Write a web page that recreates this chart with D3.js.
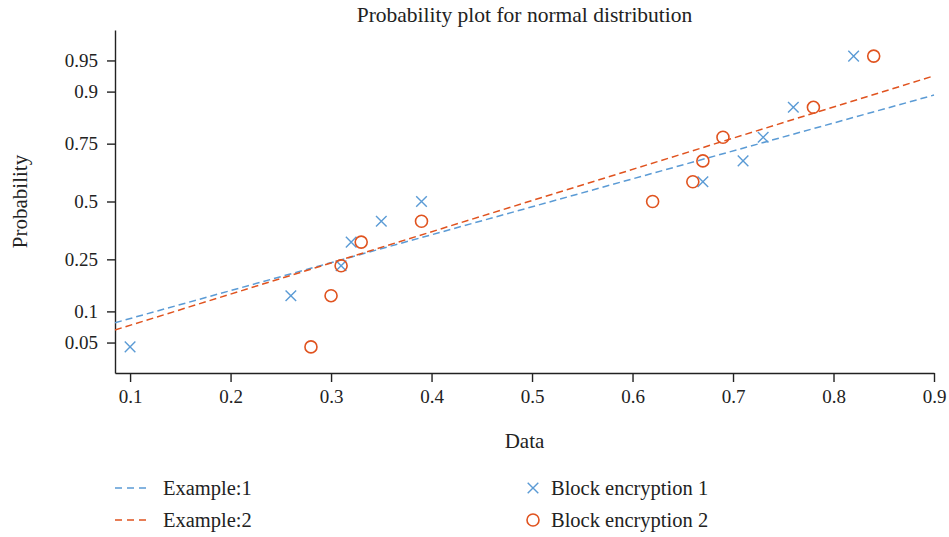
<!DOCTYPE html>
<html>
<head>
<meta charset="utf-8">
<script src="https://cdn.jsdelivr.net/npm/d3@7"></script>
<style>
  body { margin: 0; background: #fff; }
  text { font-family: "Liberation Serif", "DejaVu Serif", serif; fill: #222; }
</style>
</head>
<body>
<svg width="949" height="537"></svg>
<script>
// data
var xTicks = [0.1, 0.2, 0.3, 0.4, 0.5, 0.6, 0.7, 0.8, 0.9];
var yTicks = [0.05, 0.1, 0.25, 0.5, 0.75, 0.9, 0.95];

var block1 = [0.10, 0.26, 0.31, 0.32, 0.35, 0.39, 0.67, 0.71, 0.73, 0.76, 0.82];
var block2 = [0.28, 0.30, 0.31, 0.33, 0.39, 0.62, 0.66, 0.67, 0.69, 0.78, 0.84];
var plotProb = [0.045, 0.136, 0.227, 0.318, 0.409, 0.5, 0.591, 0.682, 0.773, 0.864, 0.955];

// fitted normal reference lines (mu, sigma)
var fitNames = ["Example:1", "Example:2"];
var fitMu    = [0.519, 0.497];
var fitSigma = [0.307, 0.275];

var blue   = "#5b9bd5",
    orange = "#e0531f";

var svg = d3.select("svg");

const plotL = 115, plotR = 934, plotT = 30, plotB = 373;

// inverse normal cdf (Acklam approximation)
function norminv(p) {
  var a = [-39.69683028665376, 220.9460984245205, -275.9285104469687, 138.3577518672690, -30.66479806614716, 2.506628277459239];
  var b = [-54.47609879822406, 161.5858368580409, -155.6989798598866, 66.80131188771972, -13.28068155288572];
  var c = [-0.007784894002430293, -0.3223964580411365, -2.400758277161838, -2.549732539343734, 4.374664141464968, 2.938163982698783];
  var d = [0.007784695709041462, 0.3224671290700398, 2.445134137142996, 3.754408661907416];
  var q, r;
  if (p < 0.02425) {
    q = Math.sqrt(-2 * Math.log(p));
    return (((((c[0]*q+c[1])*q+c[2])*q+c[3])*q+c[4])*q+c[5]) / ((((d[0]*q+d[1])*q+d[2])*q+d[3])*q+1);
  } else if (p > 1 - 0.02425) {
    q = Math.sqrt(-2 * Math.log(1 - p));
    return -(((((c[0]*q+c[1])*q+c[2])*q+c[3])*q+c[4])*q+c[5]) / ((((d[0]*q+d[1])*q+d[2])*q+d[3])*q+1);
  }
  q = p - 0.5; r = q * q;
  return (((((a[0]*r+a[1])*r+a[2])*r+a[3])*r+a[4])*r+a[5])*q / (((((b[0]*r+b[1])*r+b[2])*r+b[3])*r+b[4])*r+1);
}

var x = d3.scaleLinear().domain([0.085, 0.9]).range([plotL, plotR]);
var z = d3.scaleLinear().domain([-2, 2]).range([plotB, plotT]);

// axes
var xAxis = svg.append("g")
    .attr("transform", "translate(0," + plotB + ")")
    .call(d3.axisBottom(x).tickValues(xTicks).tickFormat(d3.format("")).tickSizeInner(9).tickSizeOuter(0).tickPadding(8));
var yAxis = svg.append("g")
    .attr("transform", "translate(" + plotL + ",0)")
    .call(d3.axisLeft(z).tickValues(yTicks.map(norminv)).tickFormat(function (d, i) { return yTicks[i]; })
      .tickSizeInner(8).tickSizeOuter(0).tickPadding(9));

[xAxis, yAxis].forEach(function (g) {
  g.selectAll("path, line").attr("stroke", "#222").attr("stroke-width", 1.4);
  g.selectAll("text").attr("font-size", 19).attr("fill", "#222")
    .attr("font-family", "Liberation Serif, serif");
});

// fit lines
var plot = svg.append("g");
fitMu.forEach(function (mu, k) {
  var sig = fitSigma[k];
  var pts = x.domain().map(function (v) { return [x(v), z((v - mu) / sig)]; });
  plot.append("path")
      .attr("d", d3.line()(pts))
      .attr("fill", "none")
      .attr("stroke", k == 0 ? blue : orange)
      .attr("stroke-width", 1.5)
      .attr("stroke-dasharray", "7,4");
});

// markers
var cross = d3.symbol().type(d3.symbolX).size(75);
plot.selectAll(".b1").data(block1).enter().append("path")
    .attr("transform", function (d, i) { return "translate(" + x(d) + "," + z(norminv(plotProb[i])) + ")"; })
    .attr("d", cross)
    .attr("fill", "none")
    .attr("stroke", blue)
    .attr("stroke-width", 1.4);
plot.selectAll(".b2").data(block2).enter().append("circle")
    .attr("cx", function (d) { return x(d); })
    .attr("cy", function (d, i) { return z(norminv(plotProb[i])); })
    .attr("r", 6)
    .attr("fill", "none")
    .attr("stroke", orange)
    .attr("stroke-width", 1.6);

// title & labels
svg.append("text")
    .attr("x", (plotL + plotR) / 2).attr("y", 22)
    .attr("text-anchor", "middle").attr("font-size", 21.5)
    .text("Probability plot for normal distribution");
svg.append("text")
    .attr("x", (plotL + plotR) / 2).attr("y", 448)
    .attr("text-anchor", "middle").attr("font-size", 21)
    .text("Data");
svg.append("text")
    .attr("transform", "translate(27," + (plotT + plotB) / 2 + ") rotate(-90)")
    .attr("text-anchor", "middle").attr("font-size", 21)
    .text("Probability");

// legend
var legend = svg.append("g");
fitNames.forEach(function (n, k) {
  var yy = 488 + k * 32;
  legend.append("line")
      .attr("x1", 115).attr("x2", 151).attr("y1", yy).attr("y2", yy)
      .attr("stroke", k == 0 ? blue : orange)
      .attr("stroke-width", 1.5)
      .attr("stroke-dasharray", "7,5");
  legend.append("text")
      .attr("x", 163).attr("y", yy + 7).attr("font-size", 20.5)
      .text(n);
});
legend.append("path")
    .attr("transform", "translate(533,488)")
    .attr("d", cross)
    .attr("fill", "none").attr("stroke", blue).attr("stroke-width", 1.4);
legend.append("text")
    .attr("x", 551).attr("y", 495).attr("font-size", 20.5)
    .text("Block encryption 1");
legend.append("circle")
    .attr("cx", 533).attr("cy", 520).attr("r", 6)
    .attr("fill", "none").attr("stroke", orange).attr("stroke-width", 1.6);
legend.append("text")
    .attr("x", 551).attr("y", 527).attr("font-size", 20.5)
    .text("Block encryption 2");
</script>
</body>
</html>
